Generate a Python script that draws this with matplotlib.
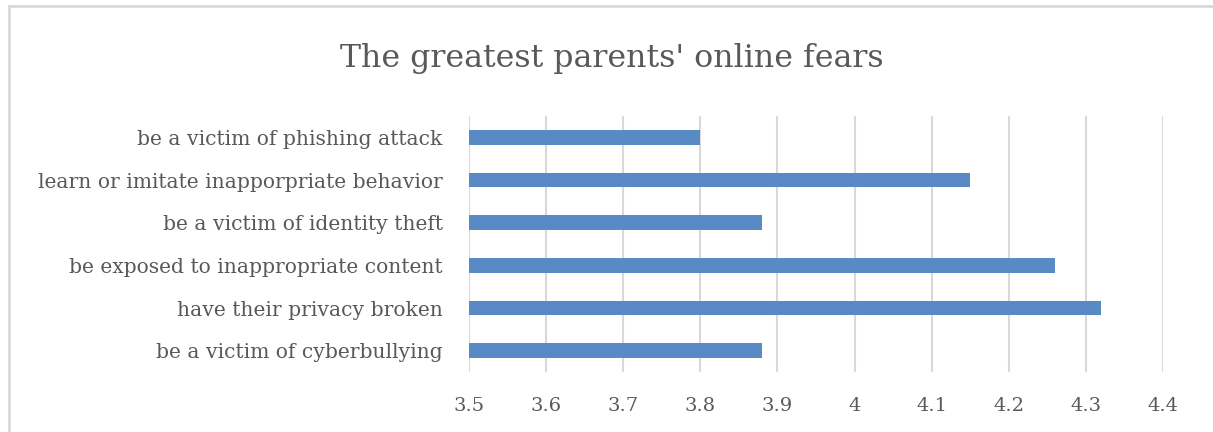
import matplotlib
matplotlib.use("Agg")
import matplotlib.pyplot as plt
from matplotlib.lines import Line2D

categories = [
    "be a victim of cyberbullying",
    "have their privacy broken",
    "be exposed to inappropriate content",
    "be a victim of identity theft",
    "learn or imitate inapporpriate behavior",
    "be a victim of phishing attack",
]
values = [3.88, 4.32, 4.26, 3.88, 4.15, 3.80]
xticks = [3.5, 3.6, 3.7, 3.8, 3.9, 4.0, 4.1, 4.2, 4.3, 4.4]
xticklabels = ["3.5", "3.6", "3.7", "3.8", "3.9", "4", "4.1", "4.2", "4.3", "4.4"]
title = "The greatest parents' online fears"

plt.rcParams['font.family'] = ['DejaVu Serif']

W, H = 1213, 432
fig = plt.figure(figsize=(W / 100, H / 100), dpi=100)
ax = fig.add_axes([469 / W, (H - 372) / H, (1163 - 469) / W, 256 / H])

base = 3.5
ax.barh(range(len(categories)), [v - base for v in values], left=base,
        height=0.35, color="#5a8ac6", zorder=3)
ax.set_xlim(3.5, 4.4)
ax.set_ylim(-0.5, len(categories) - 0.5)
ax.set_xticks(xticks)
ax.set_xticklabels(xticklabels)
ax.set_yticks(range(len(categories)))
ax.set_yticklabels(categories)
ax.grid(axis="x", color="#d9d9d9", linewidth=1.5, zorder=0)
for s in ax.spines.values():
    s.set_visible(False)
ax.tick_params(axis="both", length=0)
ax.tick_params(axis="y", pad=19, labelsize=14.6, labelcolor="#595959")
ax.tick_params(axis="x", pad=18, labelsize=14, labelcolor="#595959")

fig.text(612 / W, 1 - 58 / H, title, ha="center", va="center",
         fontsize=22.8, color="#595959")

fig.add_artist(Line2D([9 / W, 9 / W], [0, 1 - 6 / H], transform=fig.transFigure,
                      color="#d9d9d9", linewidth=2))
fig.add_artist(Line2D([9 / W, 1], [1 - 6 / H, 1 - 6 / H], transform=fig.transFigure,
                      color="#d9d9d9", linewidth=2))

fig.savefig("out.png", dpi=100, facecolor="white")
